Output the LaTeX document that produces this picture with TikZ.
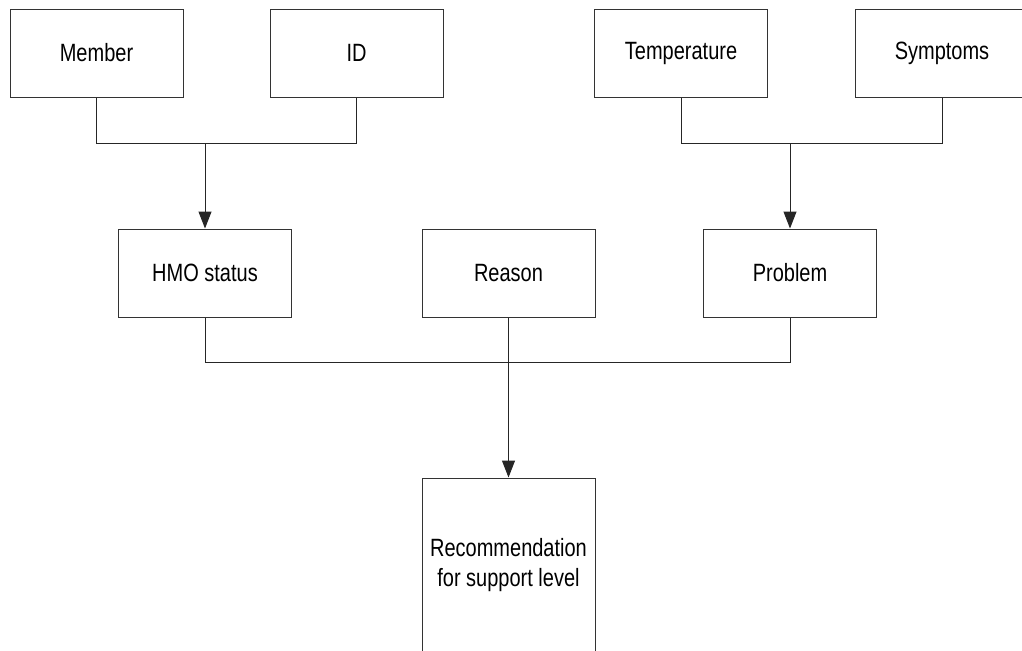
\documentclass[tikz,border=0pt]{standalone}
\usepackage{fontspec}
\setmainfont{Liberation Sans}[FakeStretch=0.8]
\usepackage{tikz}
\usetikzlibrary{arrows.meta,positioning,calc}
\definecolor{lineGray}{HTML}{333333}

\begin{document}
\begin{tikzpicture}[x=0.5pt, y=-0.5pt,
          box/.style={rectangle, draw=lineGray, fill=white, line width=0.5pt, minimum width=86.5pt, minimum height=44pt, align=center, font=\fontsize{12.5}{15}\selectfont},
          wire/.style={draw=black!85, line width=0.5pt},
          flow/.style={wire, -{Triangle[length=8.5pt, width=6.5pt]}}
        ]
          \clip (0,0) rectangle (1022,650);
          % top row
          \node[box] (member) at (96.5,53) {Member};
          \node[box] (id) at (356.5,53) {ID};
          \node[box] (temp) at (681,53) {Temperature};
          \node[box] (symptoms) at (942,53) {Symptoms};
          % middle row
          \node[box] (hmo) at (205,273) {HMO status};
          \node[box] (reason) at (508.5,273) {Reason};
          \node[box] (problem) at (790,273) {Problem};
          % result
          \node[box, minimum height=87pt] (recommend) at (508.5,565) {Recommendation\\for support level};

          \draw[wire] (member.south) -- ++(0,46) coordinate (idbar) -| (id.south);
          \draw[flow] (idbar -| hmo.north) -- (hmo.north);
          \draw[wire] (temp.south) -- ++(0,46) coordinate (symbar) -| (symptoms.south);
          \draw[flow] (symbar -| problem.north) -- (problem.north);
          \draw[wire] (hmo.south) -- ++(0,45) coordinate (midbar) -| (problem.south);
          \draw[flow] (reason.south) -- (recommend.north);
        \end{tikzpicture}
\end{document}
